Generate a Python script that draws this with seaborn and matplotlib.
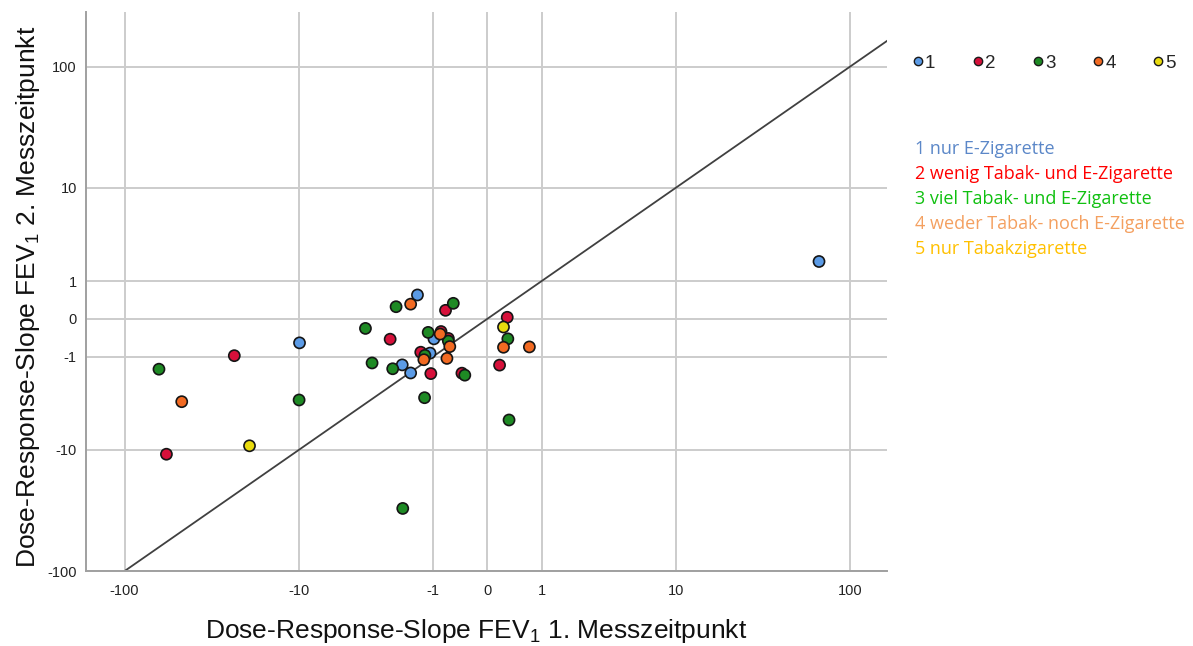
import numpy as np
import pandas as pd
import seaborn as sns
import matplotlib
matplotlib.use("Agg")
import matplotlib.pyplot as plt
from matplotlib.lines import Line2D

# ---------------- data ----------------
slope_t1 = [-1.43, -0.97, -1.07, -1.95, -1.65, -9.9, 67.2,            # group 1
            -0.70, 0.29, -2.44, -0.80, -0.64, -1.33, -1.05, -0.38, 0.17, -24.0, -58.3,   # group 2
            -2.19, -0.54, -3.71, -1.12, -0.64, 0.30, -1.21, -3.33, -2.33, -0.33, -1.22, 0.32, -1.93, -64.2, -9.96,  # group 3
            -1.65, -0.82, -0.61, -1.24, -0.67, 0.23, 0.71, -47.8,   # group 4
            0.23, -19.6]                                            # group 5
slope_t2 = [0.55, -0.44, -0.87, -1.32, -1.69, -0.55, 1.86,
            0.17, 0.03, -0.45, -0.26, -0.43, -0.84, -1.72, -1.70, -1.33, -0.96, -10.9,
            0.25, 0.33, -0.19, -0.28, -0.50, -0.44, -0.95, -1.24, -1.49, -1.80, -3.23, -5.36, -31.1, -1.51, -3.41,
            0.31, -0.32, -0.66, -1.11, -1.06, -0.68, -0.67, -3.55,
            -0.16, -9.2]
group = (["1"] * 7 + ["2"] * 11 + ["3"] * 15 + ["4"] * 8 + ["5"] * 2)

groups = ["1", "2", "3", "4", "5"]
group_labels = ["1 nur E-Zigarette",
                "2 wenig Tabak- und E-Zigarette",
                "3 viel Tabak- und E-Zigarette",
                "4 weder Tabak- noch E-Zigarette",
                "5 nur Tabakzigarette"]
tick_values = [-100, -10, -1, 0, 1, 10, 100]
tick_labels = ["-100", "-10", "-1", "0", "1", "10", "100"]
diag_line = [-100, 300]

marker_colors = {"1": "#5B9BE6", "2": "#D6103A", "3": "#1E8A24", "4": "#F26A22", "5": "#E9DB0E"}
text_colors = ["#5B87C8", "#FF0000", "#10C010", "#F4A060", "#FFC000"]

df = pd.DataFrame({"t1": slope_t1, "t2": slope_t2, "grp": group})

# ---------------- style ----------------
sns.set_theme(style="white")
plt.rcParams["font.family"] = ["Liberation Sans", "DejaVu Sans"]
plt.rcParams["mathtext.fontset"] = "custom"
plt.rcParams["mathtext.rm"] = "Liberation Sans"
plt.rcParams["mathtext.it"] = "Liberation Sans"


def fwd(v):
    v = np.asarray(v, dtype=float)
    return np.sign(v) * np.log10(np.abs(v) + 1)


def inv(t):
    t = np.asarray(t, dtype=float)
    return np.sign(t) * (10 ** np.abs(t) - 1)


fig = plt.figure(figsize=(11.93, 6.46), dpi=100)
ax = fig.add_axes([0.0725, 0.116, 0.671, 0.866])
ax.set_xscale("function", functions=(fwd, inv))
ax.set_yscale("function", functions=(fwd, inv))

ax.plot(diag_line, diag_line, color="#404040", lw=1.3, zorder=2)

sns.scatterplot(data=df, x="t1", y="t2", hue="grp", palette=marker_colors,
                hue_order=groups, s=64, edgecolor="#151515", linewidth=1.2,
                legend=False, ax=ax, zorder=3)

ax.set_xlim(-163, 161)
ax.set_ylim(-100, 276)
ax.set_xticks(tick_values)
ax.set_xticklabels(tick_labels)
ax.set_yticks(tick_values)
ax.set_yticklabels(tick_labels)
ax.tick_params(axis="both", length=0, labelsize=10.5, colors="#222222")
ax.tick_params(axis="x", pad=9)
ax.tick_params(axis="y", pad=7)
ax.grid(True, color="#cccccc", lw=1.4)
ax.set_axisbelow(True)
for side in ["top", "right"]:
    ax.spines[side].set_visible(False)
for side in ["left", "bottom"]:
    ax.spines[side].set_color("#a0a0a0")
    ax.spines[side].set_linewidth(1.4)

ax.set_xlabel("Dose-Response-Slope FEV$_1$ 1. Messzeitpunkt", fontsize=19, color="#111111")
ax.set_ylabel("Dose-Response-Slope FEV$_1$ 2. Messzeitpunkt", fontsize=19, color="#111111")
ax.xaxis.set_label_coords(0.487, -0.083)
ax.yaxis.set_label_coords(-0.056, 0.49)

# legend
handles = [Line2D([], [], marker="o", ls="none", markersize=6, markerfacecolor=marker_colors[g],
                  markeredgecolor="#1a1a1a", markeredgewidth=1.0) for g in groups]
fig.legend(handles, groups, loc="center left", bbox_to_anchor=(0.751, 0.902), ncol=5,
           frameon=False, fontsize=13.5, handlelength=0.5, handletextpad=0.15, columnspacing=2.0)

# group description texts
y0 = 1 - 149 / 646
for i, (lab, col) in enumerate(zip(group_labels, text_colors)):
    fig.text(915 / 1193, y0 - i * (25 / 646), lab, color=col, fontsize=13,
             family=["Open Sans", "DejaVu Sans"], va="center", ha="left")

fig.savefig("out.png", dpi=100)
